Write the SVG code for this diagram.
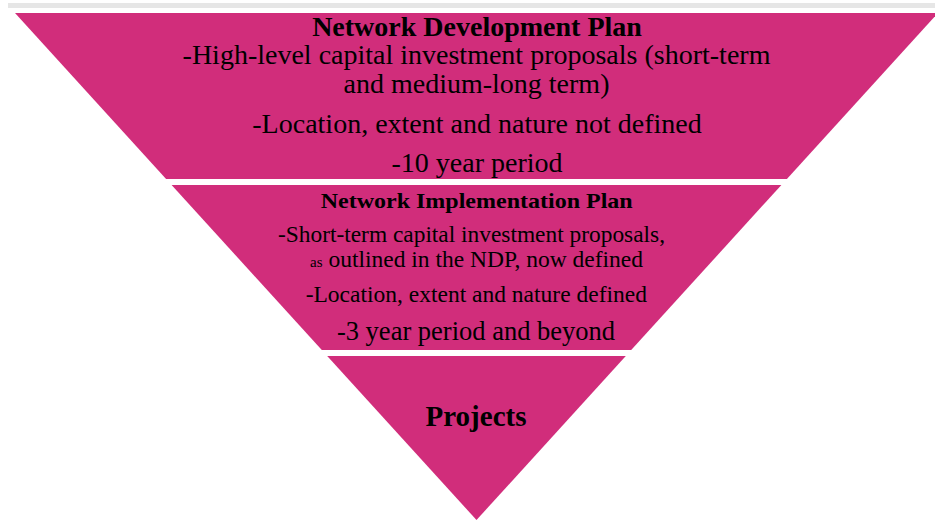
<svg xmlns="http://www.w3.org/2000/svg" width="935" height="523" viewBox="0 0 935 523">
  <style>
    .band { fill: #d12d7b; }
    text { font-family: "Liberation Serif", "Times New Roman", serif; fill: #000; text-anchor: middle; }
    .t1 { font-size: 28px; }
    .b1 { font-size: 28px; font-weight: bold; }
    .t2 { font-size: 23.5px; }
    .b2 { font-size: 22px; font-weight: bold; }
    .small { font-size: 15px; }
  </style>
  <rect x="8" y="3" width="927" height="5" fill="#e6e6e6"/>
  <g id="connectors"/>
  <g id="ndp">
    <polygon class="band" points="15,13 938,13 786.9,179 166.1,179"/>
    <text class="b1" x="477" y="36">Network Development Plan</text>
    <text class="t1" x="476.5" y="64">-High-level capital investment proposals (short-term</text>
    <text class="t1" x="476.5" y="93">and medium-long term)</text>
    <text class="t1" x="477" y="133">-Location, extent and nature not defined</text>
    <text class="t1" x="477" y="172">-10 year period</text>
  </g>
  <g id="nip">
    <polygon class="band" points="171.6,185 781.4,185 631.2,350 321.8,350"/>
    <text class="b2" x="476.7" y="207.5" textLength="312" lengthAdjust="spacingAndGlyphs">Network Implementation Plan</text>
    <text class="t2" x="471.5" y="242" textLength="387" lengthAdjust="spacingAndGlyphs">-Short-term capital investment proposals,</text>
    <text class="t2" x="476.5" y="267"><tspan class="small">as</tspan> outlined in the NDP, now defined</text>
    <text class="t2" x="476.3" y="302">-Location, extent and nature defined</text>
    <text class="t1" x="476" y="340" style="font-size:26.5px">-3 year period and beyond</text>
  </g>
  <g id="projects">
    <polygon class="band" points="327.2,356 625.8,356 476.5,520"/>
    <text class="b1" x="476" y="426" style="font-size:29px">Projects</text>
  </g>
</svg>
